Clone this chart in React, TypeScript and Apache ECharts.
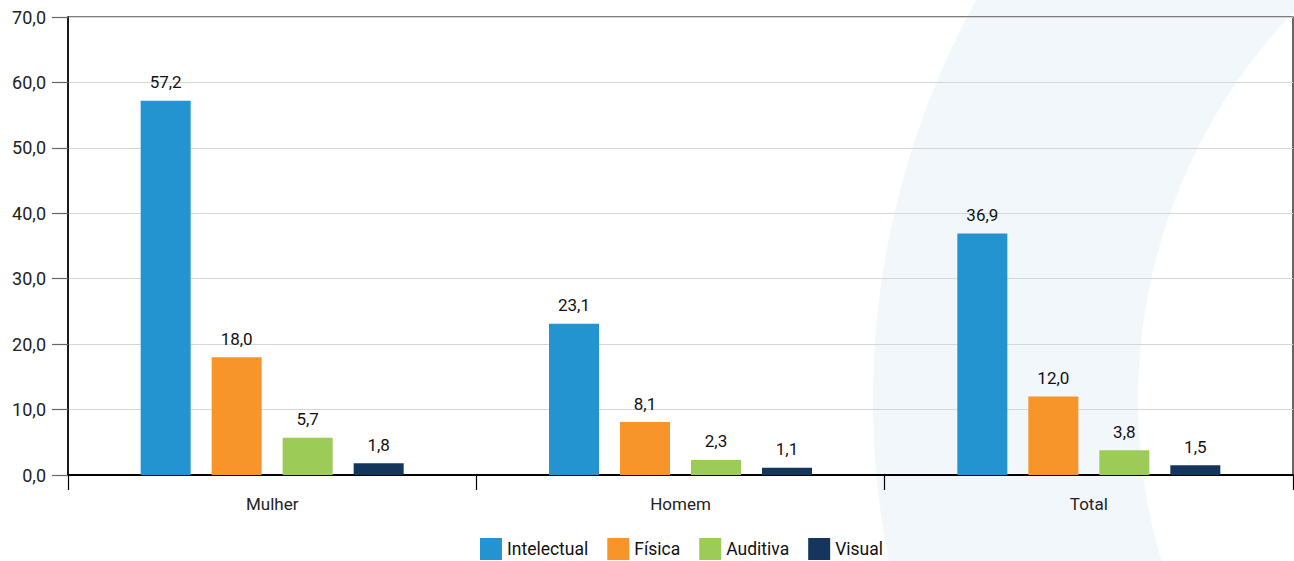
import React, { useEffect, useRef } from "react";
import * as echarts from "echarts";

const categories = ["Mulher", "Homem", "Total"];
const seriesNames = ["Intelectual", "Física", "Auditiva", "Visual"];
const intelectual = [57.2, 23.1, 36.9];
const fisica = [18.0, 8.1, 12.0];
const auditiva = [5.7, 2.3, 3.8];
const visual = [1.8, 1.1, 1.5];
const colors = ["#2394cf", "#f7942a", "#9dcb57", "#14365d"];

const fmt = (v: number) => v.toFixed(1).replace(".", ",");
const FONT = "Roboto";

export default function App() {
  const ref = useRef<HTMLDivElement>(null);
  useEffect(() => {
    document.body.style.margin = "0";
    const chart = echarts.init(ref.current!, null, { renderer: "svg" });
    const values = [intelectual, fisica, auditiva, visual];
    chart.setOption({
      animation: false,
      backgroundColor: "#ffffff",
      textStyle: { fontFamily: FONT },
      graphic: [
        {
          type: "ring",
          z: -10,
          silent: true,
          shape: { cx: 1700, cy: 400, r: 827, r0: 562 },
          style: { fill: "#f2f7fc" },
        },
      ],
      grid: {
        left: 68,
        top: 17,
        right: 1,
        bottom: 86,
        show: true,
        borderColor: "#000",
        borderWidth: 1.2,
        backgroundColor: "transparent",
      },
      legend: {
        left: 480,
        top: 538,
        padding: 0,
        itemWidth: 22,
        itemHeight: 22,
        itemGap: 19,
        icon: "rect",
        textStyle: { fontFamily: FONT, fontSize: 17.5, color: "#111" },
        data: seriesNames,
      },
      xAxis: {
        type: "category",
        data: categories,
        axisLine: { lineStyle: { color: "#000", width: 2 } },
        axisTick: { show: true, length: 15, lineStyle: { color: "#000", width: 1.2 } },
        axisLabel: { fontFamily: FONT, fontSize: 17, color: "#222", margin: 20 },
      },
      yAxis: {
        type: "value",
        min: 0,
        max: 70,
        interval: 10,
        axisLine: { show: true, lineStyle: { color: "#000", width: 1.5 } },
        axisTick: { show: true, length: 16, lineStyle: { color: "#666", width: 1.2 } },
        axisLabel: {
          fontFamily: FONT,
          fontSize: 18,
          color: "#222",
          margin: 22,
          formatter: (v: number) => fmt(v),
        },
        splitLine: { lineStyle: { color: "#d6d6d6", width: 1.2 } },
      },
      series: seriesNames.map((name, i) => ({
        name,
        type: "bar",
        data: values[i],
        barWidth: 50,
        barGap: "42%",
        itemStyle: { color: colors[i] },
        label: {
          show: true,
          position: "top",
          distance: 10,
          fontFamily: FONT,
          fontSize: 17,
          color: "#111",
          formatter: (p: any) => fmt(p.value),
        },
      })),
    });
    return () => chart.dispose();
  }, []);
  return (
    <div
      ref={ref}
      style={{ position: "absolute", left: 0, top: 0, width: 1294, height: 561 }}
    />
  );
}
